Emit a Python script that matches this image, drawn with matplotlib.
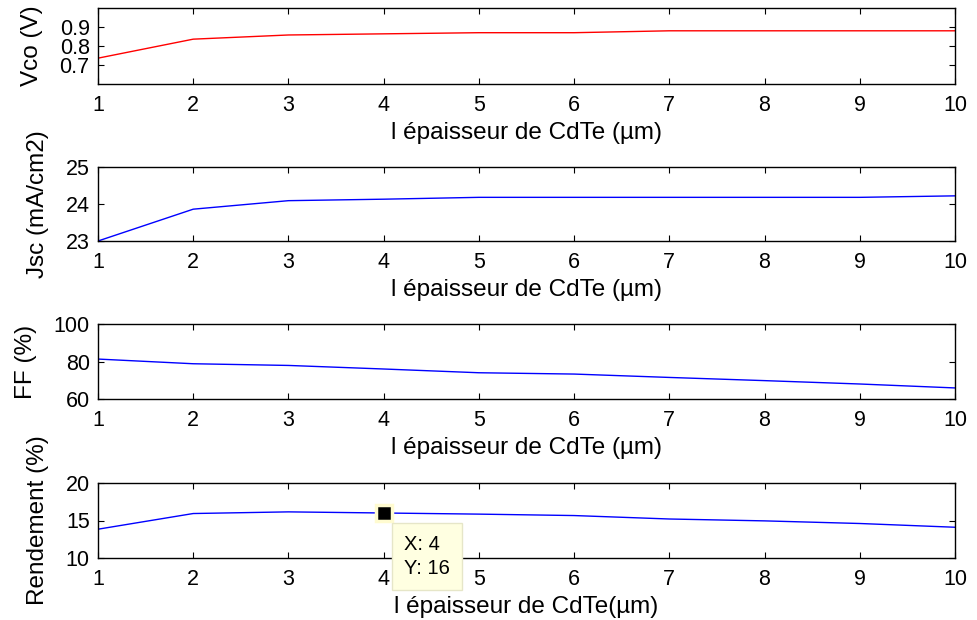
import matplotlib
matplotlib.use("Agg")
import matplotlib.pyplot as plt

plt.rcParams['font.family'] = ['Liberation Sans', 'DejaVu Sans']

thickness = [1, 2, 3, 4, 5, 6, 7, 8, 9, 10]
vco = [0.736, 0.836, 0.858, 0.864, 0.870, 0.870, 0.880, 0.880, 0.880, 0.880]
jsc = [23.0, 23.86, 24.09, 24.13, 24.18, 24.18, 24.18, 24.18, 24.18, 24.22]
ff = [81.3, 78.8, 77.9, 76.0, 74.0, 73.3, 71.5, 69.8, 68.0, 65.9]
rendement = [13.84, 15.93, 16.15, 16.0, 15.85, 15.66, 15.2, 14.95, 14.6, 14.1]

xticks = [1, 2, 3, 4, 5, 6, 7, 8, 9, 10]
xlabels = ["l épaisseur de CdTe (µm)", "l épaisseur de CdTe (µm)",
           "l épaisseur de CdTe (µm)", "l épaisseur de CdTe(µm)"]
ylabels = ["Vco (V)", "Jsc (mA/cm2)", "FF (%)", "Rendement (%)"]
ylims = [(0.6, 1.0), (23, 25), (60, 100), (10, 20)]
yticks = [[0.7, 0.8, 0.9], [23, 24, 25], [60, 80, 100], [10, 15, 20]]
colors = ["#ff0000", "#0000ff", "#0000ff", "#0000ff"]
series = [vco, jsc, ff, rendement]

W, H = 978, 620
fig = plt.figure(figsize=(W / 100, H / 100), dpi=100)

# axes boxes in pixels: (top, bottom)
boxes = [(8, 84), (167, 241), (324, 399), (483, 558)]
left, right = 98, 955

TICK_FS = 15.5
LABEL_FS = 17.5

axes = []
for i, (top, bot) in enumerate(boxes):
    ax = fig.add_axes([left / W, 1 - bot / H, (right - left) / W, (bot - top) / H])
    ax.plot(thickness, series[i], color=colors[i], lw=1.0)
    ax.set_xlim(1, 10)
    ax.set_ylim(*ylims[i])
    ax.set_xticks(xticks)
    ax.set_yticks(yticks[i])
    ax.set_xlabel(xlabels[i], fontsize=LABEL_FS, labelpad=4)
    ax.set_ylabel(ylabels[i], fontsize=LABEL_FS, labelpad=12)
    ax.tick_params(direction='in', top=True, right=True, length=4,
                   labelsize=TICK_FS, width=0.8)
    ax.tick_params(axis='x', pad=8)
    ax.tick_params(axis='y', pad=6)
    for s in ax.spines.values():
        s.set_linewidth(1.0)
    axes.append(ax)

# data tip on the efficiency curve at x = 4
ax = axes[3]
tip_x, tip_y = thickness[3], rendement[3]
ax.plot([tip_x], [tip_y], marker='s', ms=11, mfc='black', mec='#fffbd0',
        mew=2.5, zorder=5, clip_on=False)
ax.annotate(f"X: {tip_x}\nY: {tip_y:g}", xy=(tip_x, tip_y), xycoords='data',
            xytext=(15, -16), textcoords='offset points', ha='left', va='top',
            fontsize=14.5, linespacing=1.3,
            bbox=dict(boxstyle='square,pad=0.6', fc='#ffffe1', ec='#e6e6c8', lw=1.0),
            zorder=6, annotation_clip=False)

fig.savefig("out.png", dpi=100)
